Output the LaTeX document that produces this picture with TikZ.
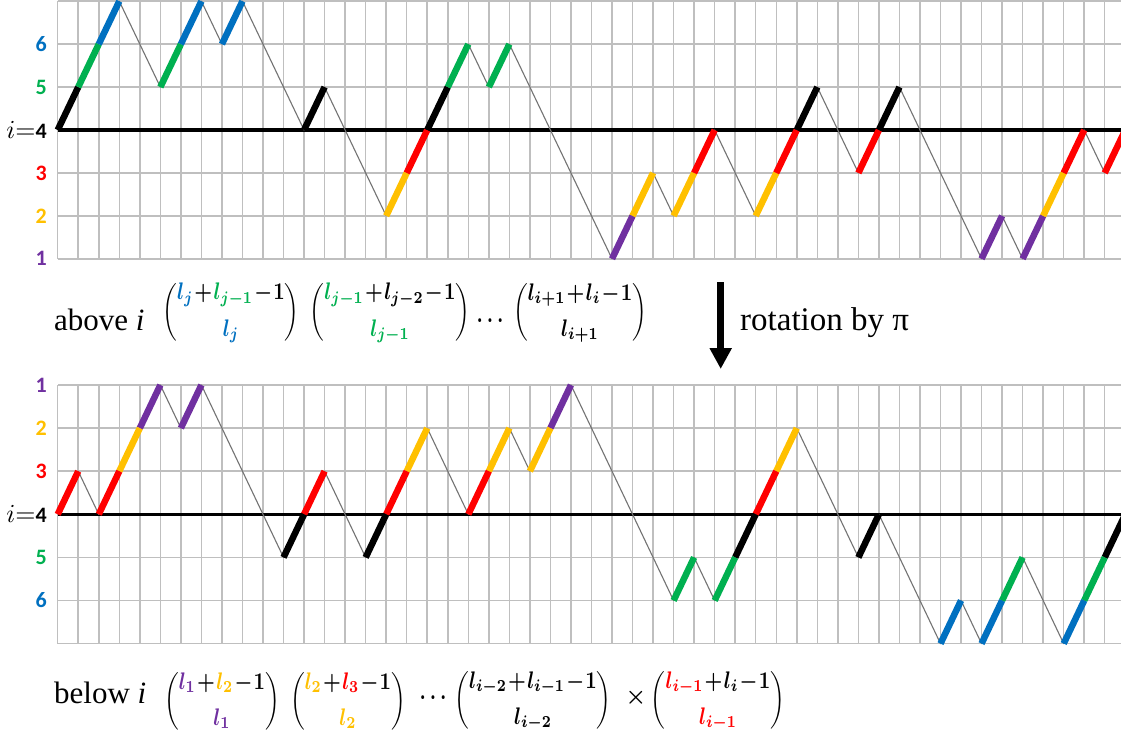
\documentclass[tikz,border=0pt]{standalone}
\usepackage{fontspec}
\setmainfont{Liberation Serif}
\newfontfamily\carl{Carlito}
\usepackage{amsmath,graphicx}
\usetikzlibrary{arrows.meta}
\definecolor{cB}{RGB}{0,112,192}
\definecolor{cG}{RGB}{0,176,80}
\definecolor{cR}{RGB}{255,0,0}
\definecolor{cY}{RGB}{255,192,0}
\definecolor{cP}{RGB}{112,48,160}
\definecolor{gridc}{RGB}{191,191,191}
\definecolor{pathc}{RGB}{115,115,115}
\tikzset{
  gridline/.style={draw=gridc, line width=1.5pt},
  axisline/.style={draw=black, line width=3.2pt},
  thinpath/.style={draw=pathc, line width=1.1pt, line join=round},
  upseg/.style={draw=#1, line width=6.5pt},
  lvl/.style={anchor=east, inner sep=0pt, text=#1, font=\carl\bfseries\fontsize{22}{22}\selectfont},
  txt/.style={inner sep=0pt, font=\fontsize{31}{31}\selectfont},
  frm/.style={inner sep=0pt}
}
\newcommand{\bnm}[2]{\scalebox{2.0}[2.4]{\boldmath$\dbinom{#1}{#2}$}}
\newcommand{\pl}{\mkern1mu{+}\mkern1mu}
\newcommand{\mi}{\mkern1mu{-}\mkern1mu}
\newcommand{\lattice}{%
  \foreach \cc in {0,...,52} \draw[gridline] (\cc,-3) -- (\cc,3);
  \foreach \hh in {-3,...,3} \draw[gridline] (0,\hh) -- (52,\hh);
  \draw[axisline] (0,0) -- (52,0);
  \draw[thinpath] (0,0) -- (3,3) -- (5,1) -- (7,3) -- (8,2) -- (9,3) -- (12,0) -- (13,1)
    -- (16,-2) -- (20,2) -- (21,1) -- (22,2) -- (27,-3) -- (29,-1) -- (30,-2) -- (32,0)
    -- (34,-2) -- (37,1) -- (39,-1) -- (41,1) -- (45,-3) -- (46,-2) -- (47,-3) -- (50,0)
    -- (51,-1) -- (52,0);
  \foreach \cc/\hh/\kk in {0/0/black, 1/1/cG, 2/2/cB, 5/1/cG, 6/2/cB, 8/2/cB, 12/0/black,
    16/-2/cY, 17/-1/cR, 18/0/black, 19/1/cG, 21/1/cG, 27/-3/cP, 28/-2/cY, 30/-2/cY, 31/-1/cR,
    34/-2/cY, 35/-1/cR, 36/0/black, 39/-1/cR, 40/0/black, 45/-3/cP, 47/-3/cP, 48/-2/cY,
    49/-1/cR, 51/-1/cR}
    \draw[upseg=\kk] (\cc,\hh) -- ++(1,1);
}
\begin{document}
\begin{tikzpicture}
\useasboundingbox (0,0) rectangle (1121pt,-731pt);
\fill[white] (0,0) rectangle (1121pt,-731pt);
\clip (0,0) rectangle (1121pt,-731pt);

% top lattice
\begin{scope}[shift={(57.7pt,-130pt)}, x={(20.53pt,0pt)}, y={(0pt,42.93pt)}]
  \lattice
\end{scope}
% bottom lattice (rotated by pi)
\begin{scope}[shift={(1125.26pt,-514.3pt)}, x={(-20.53pt,0pt)}, y={(0pt,-43.1pt)}]
  \lattice
\end{scope}

% level labels top
\node[lvl=cB] (t6) at (47pt,-44.1pt) {6};
\node[lvl=cG] (t5) at (47pt,-87.1pt) {5};
\node[anchor=east, inner sep=0pt] (t4) at (47pt,-130pt) {\scalebox{2.6}{$i{=}$}{\carl\bfseries\fontsize{22}{22}\selectfont 4}};
\node[lvl=cR] (t3) at (47pt,-172.9pt) {3};
\node[lvl=cY] (t2) at (47pt,-215.9pt) {2};
\node[lvl=cP] (t1) at (47pt,-258.8pt) {1};
% level labels bottom
\node[lvl=cP] (u1) at (47pt,-385pt) {1};
\node[lvl=cY] (u2) at (47pt,-428.1pt) {2};
\node[lvl=cR] (u3) at (47pt,-471.2pt) {3};
\node[anchor=east, inner sep=0pt] (u4) at (47pt,-514.3pt) {\scalebox{2.6}{$i{=}$}{\carl\bfseries\fontsize{22}{22}\selectfont 4}};
\node[lvl=cG] (u5) at (47pt,-557.4pt) {5};
\node[lvl=cB] (u6) at (47pt,-600.5pt) {6};

% top formula
\node[txt, anchor=west] (abv) at (54pt,-320pt) {above \textit{i}};
\node[frm] (a1) at (231pt,-313pt) {\bnm{{\color{cB}l_j}\pl{\color{cG}l_{j-1}}\mi 1}{{\color{cB}l_j}}};
\node[frm] (a2) at (390pt,-313pt) {\bnm{{\color{cG}l_{j-1}}\pl l_{j-2}\mi 1}{{\color{cG}l_{j-1}}}};
\node[frm] (ad) at (490pt,-321pt) {\scalebox{2.0}[2.4]{\boldmath$\ldots$}};
\node[frm] (a3) at (580pt,-313pt) {\bnm{l_{i+1}\pl l_i\mi 1}{l_{i+1}}};

% arrow and label
\coordinate (arS) at (720.7pt,-282pt);
\coordinate (arE) at (720.7pt,-369pt);
\draw[line width=7pt, -{Triangle[width=21pt,length=21pt]}] (arS) -- (arE);
\node[anchor=base west, inner sep=0pt, font=\fontsize{33}{33}\selectfont] (rot) at (740pt,-330pt) {rotation by π};

% bottom formula
\node[txt, anchor=west] (blw) at (54pt,-693pt) {below \textit{i}};
\node[frm] (b1) at (222pt,-701pt) {\bnm{{\color{cP}l_1}\pl{\color{cY}l_2}\mi 1}{{\color{cP}l_1}}};
\node[frm] (b2) at (348pt,-701pt) {\bnm{{\color{cY}l_2}\pl{\color{cR}l_3}\mi 1}{{\color{cY}l_2}}};
\node[frm] (bd) at (433pt,-698pt) {\scalebox{2.0}[2.4]{\boldmath$\ldots$}};
\node[frm] (b3) at (533pt,-701pt) {\bnm{l_{i-2}\pl l_{i-1}\mi 1}{l_{i-2}}};
\node[frm] (bx) at (636pt,-698pt) {\scalebox{2.3}{\boldmath$\times$}};
\node[frm] (b4) at (718pt,-701pt) {\bnm{{\color{cR}l_{i-1}}\pl l_i\mi 1}{{\color{cR}l_{i-1}}}};
\end{tikzpicture}
\end{document}
